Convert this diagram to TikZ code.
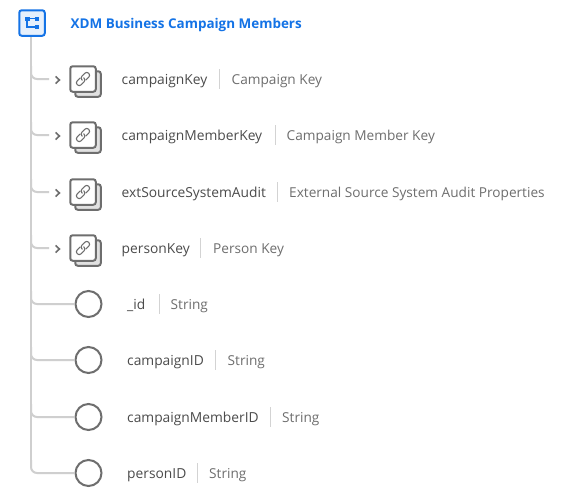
\documentclass[tikz,border=0pt]{standalone}
\usepackage{fontspec}
\setmainfont{Open Sans}
\definecolor{linegray}{HTML}{CFCFCF}
\definecolor{icongray}{HTML}{6E6E6E}
\definecolor{backgray}{HTML}{E1E1E1}
\definecolor{textgray}{HTML}{4B4B4B}
\definecolor{labgray}{HTML}{6E6E6E}
\definecolor{sepgray}{HTML}{D3D3D3}
\definecolor{adobeblue}{HTML}{1473E6}
\definecolor{paleblue}{HTML}{E6F0FC}
\newcommand{\namefont}{\fontsize{13.8}{16}\selectfont}
\newcommand{\typefont}{\fontsize{13.65}{16}\selectfont}
\newcommand{\titlefont}{\fontsize{13.45}{16}\selectfont\bfseries}
\tikzset{
  x=1pt,y=-1pt,
  trunk/.style={draw=linegray,line width=2pt,rounded corners=6pt},
  keyline/.style={draw=linegray,line width=2pt,rounded corners=6pt},
  rootbox/.style={draw=adobeblue,fill=paleblue,line width=2pt,rounded corners=2.5pt,minimum size=25.5pt,inner sep=0pt},
  linkfront/.style={draw=icongray,fill=white,line width=2pt,rounded corners=2.5pt,minimum size=25.5pt,inner sep=0pt},
  linkback/.style={draw=icongray,fill=backgray,line width=2pt,rounded corners=2.5pt,minimum size=25.5pt,inner sep=0pt},
  fieldcirc/.style={circle,draw=icongray,fill=white,line width=2pt,minimum size=26pt,inner sep=0pt},
  fieldname/.style={anchor=base west,inner sep=0pt,text=textgray,font=\namefont},
  fieldtype/.style={anchor=base west,inner sep=0pt,text=labgray,font=\typefont},
  sep/.style={draw=sepgray,line width=1pt},
  chev/.style={draw=icongray,line width=1.6pt},
  linkloop/.style={draw=icongray,line width=1.1pt,rounded corners=2.3pt},
  title/.style={anchor=base west,inner sep=0pt,text=adobeblue,font=\titlefont}
}
\newcommand{\keyrow}[6]{% id, y, name, sepx, type, typex
  \coordinate (#1s) at (31,#2-13);
  \coordinate (#1e) at (49,#2);
  \draw[keyline] (#1s) -- (31,#2) -- (#1e);
  \node[linkback] (#1b) at (88,#2+5) {};
  \node[linkfront] (#1) at (83,#2) {};
  \begin{scope}[shift={(83,#2)},rotate=45]
    \draw[linkloop] (-1.2,-2.7) -- (-8,-2.7) -- (-8,2.7) -- (1.3,2.7) -- (1.3,-0.6);
    \draw[linkloop] (1.2,2.7) -- (8,2.7) -- (8,-2.7) -- (-1.3,-2.7) -- (-1.3,0.6);
  \end{scope}
  \draw[chev] (55.6,#2-2.6) -- (59.4,#2+1) -- (55.6,#2+4.6);
  \node[fieldname] (#1n) at (121.5,#2+5) {#3};
  \draw[sep] (#4,#2-10) -- (#4,#2+10);
  \node[fieldtype] (#1t) at (#6,#2+5) {#5};
}
\newcommand{\fieldrow}[6]{%
  \coordinate (#1s) at (31,#2-13);
  \node[fieldcirc] (#1) at (88.5,#2) {};
  \draw[trunk] (#1s) -- (31,#2) -- (#1.west);
  \node[fieldname] (#1n) at (127,#2+5) {#3};
  \draw[sep] (#4,#2-10) -- (#4,#2+10);
  \node[fieldtype] (#1t) at (#6,#2+5) {#5};
}
\begin{document}
\begin{tikzpicture}
\useasboundingbox (0,0) rectangle (566,499);
\fill[white] (0,0) rectangle (566,499);
\coordinate (last) at (31,460);
\node[rootbox] (root) at (32,23) {};
\draw[trunk,rounded corners=0pt] (root.south -| last) -- (last);
\draw[adobeblue,line width=1pt,fill=adobeblue] (25.5,17) rectangle (29,20.5) (35,17) rectangle (38.5,20) (35,25.5) rectangle (38.5,28.5);
\draw[adobeblue,line width=1.3pt] (27,20) -- (27,27) -- (35,27) (27,18.5) -- (35,18.5);
\node[title] (titletext) at (70.5,28) {XDM Business Campaign Members};
\keyrow{k1}{79}{campaignKey}{219.5}{Campaign Key}{231.5}
\keyrow{k2}{135}{campaignMemberKey}{275}{Campaign Member Key}{286.5}
\keyrow{k3}{192}{extSourceSystemAudit}{277.5}{External Source System Audit Properties}{289}
\keyrow{k4}{248}{personKey}{200.5}{Person Key}{213}
\fieldrow{f1}{304}{\_id}{159}{String}{170.5}
\fieldrow{f2}{360}{campaignID}{215.5}{String}{227.5}
\fieldrow{f3}{417}{campaignMemberID}{270.5}{String}{282}
\fieldrow{f4}{473}{personID}{197.5}{String}{209}
\end{tikzpicture}
\end{document}
